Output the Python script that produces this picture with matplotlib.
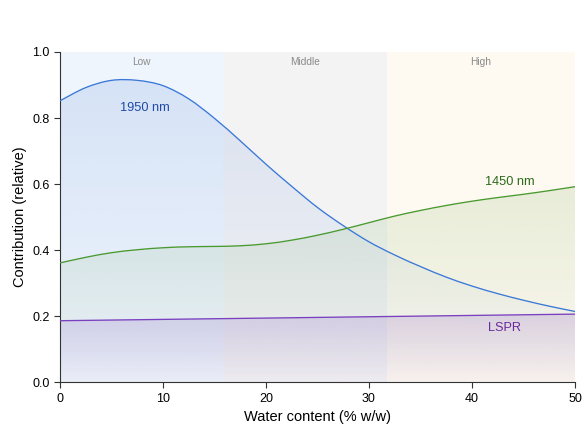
import matplotlib
matplotlib.use("Agg")
import matplotlib.pyplot as plt
import numpy as np
from matplotlib.path import Path
from matplotlib.patches import PathPatch
from matplotlib.colors import to_rgb

plt.rcParams['font.family'] = ['Liberation Sans', 'DejaVu Sans']

water = [0, 2.5, 5, 7.5, 10, 12.5, 15, 17.5, 20, 22.5, 25, 27.5, 30, 32.5, 35, 37.5, 40, 42.5, 45, 47.5, 50]
nm1950 = [0.852, 0.892, 0.914, 0.914, 0.898, 0.858, 0.799, 0.731, 0.660, 0.593, 0.529, 0.474, 0.425,
          0.385, 0.350, 0.318, 0.291, 0.268, 0.248, 0.230, 0.214]
nm1450 = [0.361, 0.378, 0.392, 0.401, 0.407, 0.410, 0.411, 0.413, 0.419, 0.430, 0.445, 0.463, 0.483,
          0.503, 0.520, 0.535, 0.548, 0.559, 0.569, 0.580, 0.592]
lspr = [0.186, 0.187, 0.188, 0.189, 0.190, 0.191, 0.192, 0.193, 0.194, 0.195, 0.196, 0.197, 0.198,
        0.199, 0.200, 0.201, 0.202, 0.203, 0.204, 0.205, 0.206]

bands = ["Low", "Middle", "High"]
band_edges = [0, 15.8, 31.7, 50]
band_colors = ["#eff5fc", "#f3f3f4", "#fef9f1"]


def smooth_path(xs, ys, close_to=None):
    p = np.column_stack([xs, ys]).astype(float)
    n = len(p)
    verts = [tuple(p[0])]
    codes = [Path.MOVETO]
    for i in range(n - 1):
        p0 = p[i - 1] if i > 0 else p[i]
        p1 = p[i]
        p2 = p[i + 1]
        p3 = p[i + 2] if i + 2 < n else p[i + 1]
        c1 = p1 + (p2 - p0) / 6.0
        c2 = p2 - (p3 - p1) / 6.0
        verts += [tuple(c1), tuple(c2), tuple(p2)]
        codes += [Path.CURVE4] * 3
    if close_to is not None:
        verts += [(p[-1, 0], close_to), (p[0, 0], close_to), (p[0, 0], close_to)]
        codes += [Path.LINETO, Path.LINETO, Path.CLOSEPOLY]
    return Path(verts, codes)


fig = plt.figure(figsize=(5.82, 4.26), dpi=100)
ax = fig.add_axes([0.103, 0.103, 0.885, 0.775])

for i, name in enumerate(bands):
    ax.axvspan(band_edges[i], band_edges[i + 1], color=band_colors[i], zorder=0, lw=0)
    ax.text((band_edges[i] + band_edges[i + 1]) / 2, 0.97, name, ha='center', va='center',
            fontsize=7.3, color='#8a8a8a')

series = [
    (nm1950, "#3a78d8", "#3a72d4", 0.14, 0.0),
    (nm1450, "#4a9a30", "#5a9e3a", 0.14, 0.01),
    (lspr, "#7a40c0", "#7f4cc4", 0.19, 0.04),
]
for vals, lc, fc, a_top, a_bot in series:
    top = max(vals)
    grad = np.zeros((256, 1, 4))
    grad[:, 0, :3] = to_rgb(fc)
    grad[:, 0, 3] = np.linspace(a_top, a_bot, 256)
    im = ax.imshow(grad, extent=[water[0], water[-1], 0, top], origin='upper',
                   aspect='auto', zorder=1, interpolation='bilinear')
    clip = PathPatch(smooth_path(water, vals, close_to=0), transform=ax.transData,
                     facecolor='none', edgecolor='none')
    ax.add_patch(clip)
    im.set_clip_path(clip)
    line = PathPatch(smooth_path(water, vals), facecolor='none', edgecolor=lc, lw=0.95, zorder=3)
    ax.add_patch(line)

ax.text(8.2, 0.83, "1950 nm", color="#1f4aa8", fontsize=9.2, ha='center', va='center')
ax.text(43.7, 0.606, "1450 nm", color="#2a6a1a", fontsize=9.2, ha='center', va='center')
ax.text(43.2, 0.164, "LSPR", color="#6a2a9a", fontsize=9.2, ha='center', va='center')

ax.set_xlim(0, 50)
ax.set_ylim(0, 1.0)
ax.set_xticks([0, 10, 20, 30, 40, 50])
ax.set_yticks([0.0, 0.2, 0.4, 0.6, 0.8, 1.0])
ax.set_yticklabels(["0.0", "0.2", "0.4", "0.6", "0.8", "1.0"])
ax.tick_params(labelsize=9, length=4, color='#333333')
for s in ['top', 'right']:
    ax.spines[s].set_visible(False)
for s in ['left', 'bottom']:
    ax.spines[s].set_color('#333333')
ax.set_xlabel("Water content (% w/w)", fontsize=10.5)
ax.set_ylabel("Contribution (relative)", fontsize=10.5)

fig.savefig("out.png", dpi=100)
